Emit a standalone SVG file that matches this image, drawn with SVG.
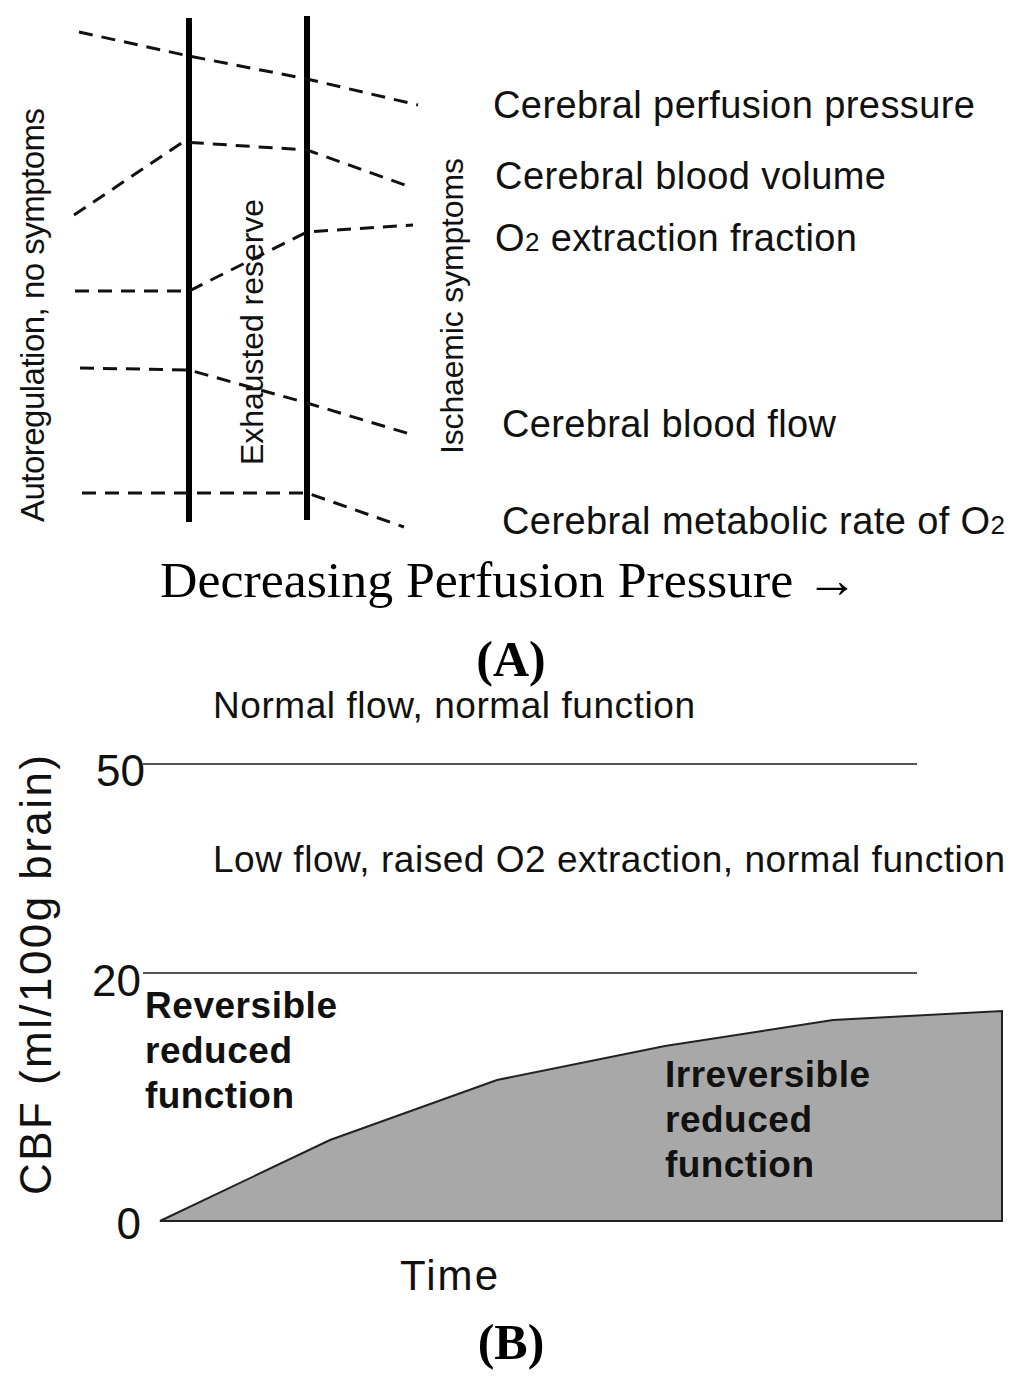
<svg xmlns="http://www.w3.org/2000/svg" width="1024" height="1387" viewBox="0 0 1024 1387">
<style>
.sans{font-family:"Liberation Sans",Arial,sans-serif;fill:#111}
.serif{font-family:"Liberation Serif","Times New Roman",serif;fill:#000}
.bar{stroke:#000;stroke-width:6;fill:none}
.dash{stroke:#111;stroke-width:3;fill:none;stroke-dasharray:14 9}
.grid{stroke:#555;stroke-width:2;fill:none}
.b{font-weight:bold}
</style>
<rect width="1024" height="1387" fill="#fff"/>
<g id="panelA">
  <g id="thresholds">
    <line class="bar" x1="189" y1="18" x2="189" y2="522"/>
    <line class="bar" x1="307" y1="16" x2="307" y2="520"/>
  </g>
  <g id="connectors">
    <polyline class="dash" points="79,32 189,56 307,79 418,105"/>
    <polyline class="dash" points="74,215 183,142 307,150 405,185"/>
    <polyline class="dash" points="75,291 189,291 307,232 413,225"/>
    <polyline class="dash" points="80,368 189,370 307,403 410,434"/>
    <polyline class="dash" points="82,493 307,493 404,527"/>
  </g>
  <g id="zone-labels">
    <text class="sans" font-size="33" transform="translate(44,522) rotate(-90)" textLength="414">Autoregulation, no symptoms</text>
    <text class="sans" font-size="32" transform="translate(263,465) rotate(-90)" textLength="266">Exhausted reserve</text>
    <text class="sans" font-size="32" transform="translate(463,454) rotate(-90)" textLength="296">Ischaemic symptoms</text>
  </g>
  <g id="param-labels">
    <text id="cpp" class="sans" font-size="38" x="493" y="118" textLength="482">Cerebral perfusion pressure</text>
    <text id="cbv" class="sans" font-size="38" x="495" y="189" textLength="391">Cerebral blood volume</text>
    <text id="oef" class="sans" font-size="38" x="495" y="251" textLength="362">O<tspan font-size="26">2</tspan> extraction fraction</text>
    <text id="cbf" class="sans" font-size="38" x="502" y="437" textLength="334">Cerebral blood flow</text>
    <text id="cmro2" class="sans" font-size="38" x="502" y="534" textLength="503">Cerebral metabolic rate of O<tspan font-size="26">2</tspan></text>
  </g>
  <text class="serif" font-size="50" x="160" y="597" textLength="698" lengthAdjust="spacingAndGlyphs">Decreasing Perfusion Pressure →</text>
  <text class="serif b" font-size="50" x="511" y="676" text-anchor="middle">(A)</text>
</g>
<g id="panelB">
  <polygon id="area" points="160,1221 330,1140 497,1080 665,1046 833,1020 1002,1011 1002,1221" fill="#a8a8a8" stroke="#222" stroke-width="2"/>
  <line class="grid" x1="143" y1="764" x2="917" y2="764"/>
  <line class="grid" x1="143" y1="973" x2="917" y2="973"/>
  <text class="sans" font-size="37" x="213" y="718" textLength="482">Normal flow, normal function</text>
  <text class="sans" font-size="37" x="213" y="872" textLength="792">Low flow, raised O2 extraction, normal function</text>
  <text class="sans" font-size="44" x="145" y="786" text-anchor="end">50</text>
  <text class="sans" font-size="44" x="141" y="996" text-anchor="end">20</text>
  <text class="sans" font-size="44" x="141" y="1239" text-anchor="end">0</text>
  <text class="sans" font-size="44" transform="translate(51,1195) rotate(-90)" textLength="440">CBF (ml/100g brain)</text>
  <g id="reversible">
    <text class="sans b" font-size="37" x="145" y="1018" textLength="192">Reversible</text>
    <text class="sans b" font-size="37" x="145" y="1063" textLength="147">reduced</text>
    <text class="sans b" font-size="37" x="145" y="1108" textLength="149">function</text>
  </g>
  <g id="irreversible">
    <text class="sans b" font-size="37" x="665" y="1087" textLength="205">Irreversible</text>
    <text class="sans b" font-size="37" x="665" y="1132" textLength="147">reduced</text>
    <text class="sans b" font-size="37" x="665" y="1177" textLength="149">function</text>
  </g>
  <text class="sans" font-size="42" x="400" y="1290" textLength="98">Time</text>
  <text class="serif b" font-size="50" x="511" y="1359" text-anchor="middle">(B)</text>
</g>
</svg>
